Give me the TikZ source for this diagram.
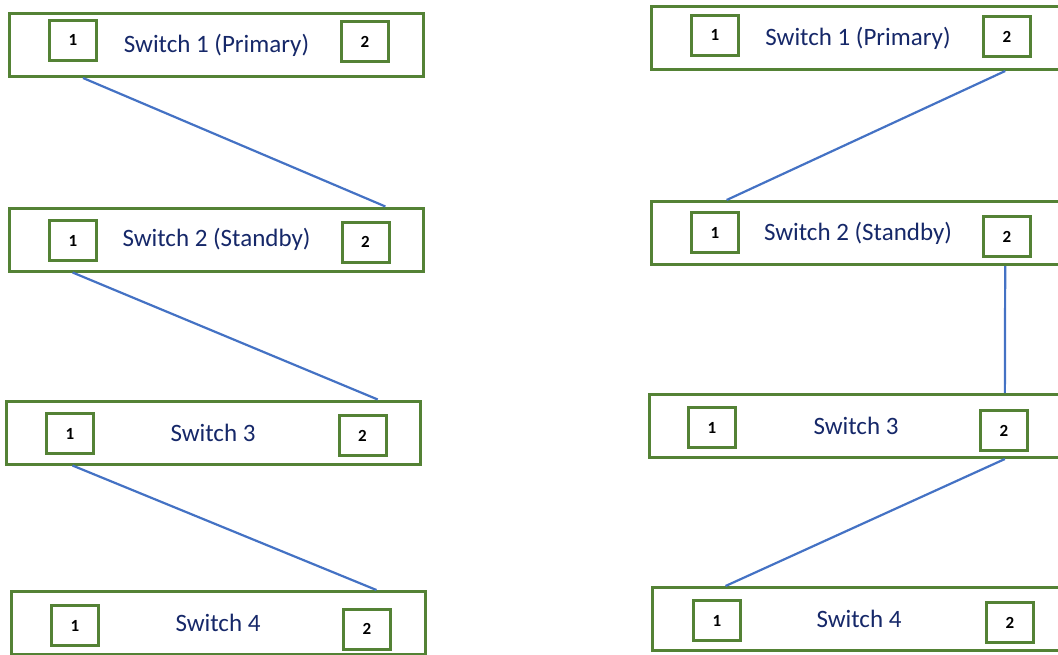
\documentclass[tikz,border=0pt]{standalone}
\usepackage{fontspec}
\setmainfont{Carlito}
\usetikzlibrary{calc}
\definecolor{boxgreen}{RGB}{84,130,53}
\definecolor{labelnavy}{RGB}{22,40,105}
\definecolor{linkblue}{RGB}{68,114,196}
\tikzset{
  switchbox/.style={draw=boxgreen, line width=3pt, fill=white,
    minimum width=414pt, minimum height=63pt, inner sep=0pt,
    font=\fontsize{25}{30}\selectfont, text=labelnavy},
  portbox/.style={draw=boxgreen, line width=3pt, fill=white,
    minimum width=47pt, minimum height=40pt, inner sep=0pt,
    font=\bfseries\fontsize{17}{20}\selectfont, text=black},
  link/.style={draw=linkblue, line width=2.2pt}
}
\begin{document}
\begin{tikzpicture}[x=1pt,y=-1pt]
\useasboundingbox (0,0) rectangle (1058,654);
\begin{scope}
\clip (0,0) rectangle (1058,654);
% left chain
\node[switchbox] (LA) at (216.5,45) {\raisebox{-1.5pt}{Switch 1 (Primary)}};
\node[switchbox] (LB) at (216.5,239.5) {\raisebox{-1.5pt}{Switch 2 (Standby)}};
\node[switchbox] (LC) at (213,432.5) {Switch 3};
\node[switchbox] (LD) at (218,623) {\raisebox{-1.5pt}{Switch 4}};
\node[portbox] (LA1) at (73,40) {1};
\node[portbox] (LA2) at (365,41.5) {2};
\node[portbox] (LB1) at (73,240.5) {1};
\node[portbox] (LB2) at (365.5,242) {2};
\node[portbox] (LC1) at (70,433.5) {1};
\node[portbox] (LC2) at (362.5,435.5) {2};
\node[portbox] (LD1) at (75,625.5) {1};
\node[portbox] (LD2) at (367,629) {2};
% right chain
\node[switchbox] (RA) at (858,38) {\raisebox{-1.5pt}{Switch 1 (Primary)}};
\node[switchbox] (RB) at (858,233) {\raisebox{-1.5pt}{Switch 2 (Standby)}};
\node[switchbox] (RC) at (856,426) {Switch 3};
\node[switchbox] (RD) at (859,619) {Switch 4};
\node[portbox] (RA1) at (715,35) {1};
\node[portbox] (RA2) at (1007,36.5) {2};
\node[portbox] (RB1) at (715,232.5) {1};
\node[portbox] (RB2) at (1007,236.5) {2};
\node[portbox] (RC1) at (712,427.5) {1};
\node[portbox] (RC2) at (1004,430.5) {2};
\node[portbox] (RD1) at (717,620.5) {1};
\node[portbox] (RD2) at (1010,622.5) {2};
% links, left
\draw[link] ($(LA.south west)!0.18!(LA.south east)$) -- ($(LB.north west)!0.905!(LB.north east)$);
\draw[link] ($(LB.south west)!0.155!(LB.south east)$) -- ($(LC.north west)!0.895!(LC.north east)$);
\draw[link] ($(LC.south west)!0.163!(LC.south east)$) -- ($(LD.north west)!0.88!(LD.north east)$);
% links, right
\draw[link] ($(RA.south west)!0.853!(RA.south east)$) -- ($(RB.north west)!0.185!(RB.north east)$);
\draw[link] ($(RB.south west)!0.853!(RB.south east)$) -- ($(RC.north west)!0.857!(RC.north east)$);
\draw[link] ($(RC.south west)!0.857!(RC.south east)$) -- ($(RD.north west)!0.18!(RD.north east)$);
\end{scope}
\end{tikzpicture}
\end{document}
